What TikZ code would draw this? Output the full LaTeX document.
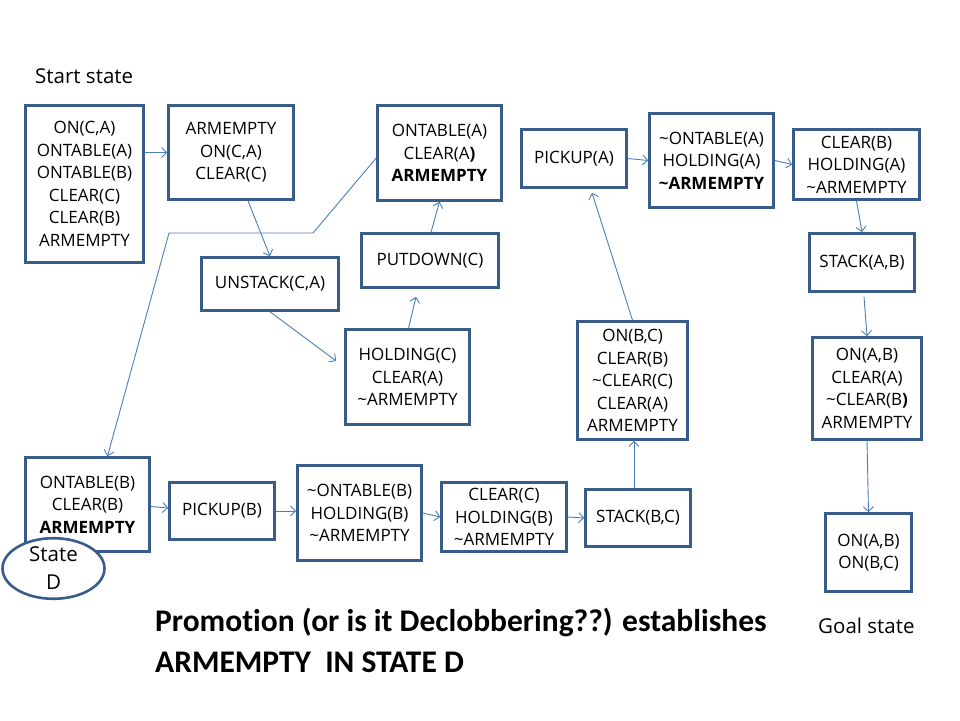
\documentclass[tikz,border=0pt]{standalone}
\usepackage{fontspec}
\setmainfont{Open Sans}
\newfontfamily\titlefont[Ligatures=NoCommon]{Carlito}
\usetikzlibrary{arrows.meta,shapes.geometric}
\definecolor{boxblue}{RGB}{56,93,138}
\definecolor{lineblue}{RGB}{74,126,187}
\newcommand{\tl}{\textasciitilde}
\tikzset{
block/.style = {draw=boxblue, line width=2.6pt, fill=white, align=center,
                inner sep=0pt, font=\fontsize{17}{22.5}\selectfont},
statec/.style = {ellipse, draw=boxblue, line width=2.6pt, fill=white,
                align=center, inner sep=0pt, font=\fontsize{20.5}{28}\selectfont},
input/.style = {coordinate},
conn/.style = {->, draw=lineblue, line width=0.9pt},
label/.style = {inner sep=0pt, anchor=base west, font=\fontsize{20.5}{24}\selectfont}
}

\begin{document}
\begin{tikzpicture}[x=1pt, y=-1pt, >={Straight Barb[length=5pt,width=10pt]}]
    \useasboundingbox (0,0) rectangle (960,720);

    \node [label, name=startlbl] (startlbl) at (35,83) {Start state};
    \node [block, name=start, minimum width=118pt, minimum height=157pt] (start) at (84.5,184)
    {ON(C,A)\\ONTABLE(A)\\ONTABLE(B)\\CLEAR(C)\\CLEAR(B)\\ARMEMPTY};
    \node [block, name=s1, minimum width=125pt, minimum height=94pt] (s1) at (231,152.5)
    {ARMEMPTY\\ON(C,A)\\CLEAR(C)};
    \node [block, name=unstack, minimum width=137pt, minimum height=53pt] (unstack) at (270,284) {UNSTACK(C,A)};
    \node [block, name=holdc, minimum width=124pt, minimum height=95pt] (holdc) at (407.5,377)
    {HOLDING(C)\\CLEAR(A)\\\tl ARMEMPTY};
    \node [block, name=putdown, minimum width=137pt, minimum height=54pt] (putdown) at (430,260.5) {PUTDOWN(C)};
    \node [block, name=s2, minimum width=124pt, minimum height=95pt] (s2) at (439.5,153)
    {ONTABLE(A)\\CLEAR(A\textbf{)}\\\textbf{ARMEMPTY}};

    \draw [conn] (start.east |- s1.west) -- (s1.west);
    \draw [conn] ([xshift=17pt]s1.south) -- (unstack.north);
    \draw [conn] (unstack.south) -- ([xshift=-8pt,yshift=16pt]holdc.west);
    \draw [conn] ([xshift=1pt]holdc.north) -- ([xshift=-14pt,yshift=-8pt]putdown.south);
    \draw [conn] ([xshift=1pt]putdown.north) -- (s2.south);

    \node [block, name=pickupa, minimum width=105pt, minimum height=58pt] (pickupa) at (574,158.5) {PICKUP(A)};
    \node [block, name=holda, minimum width=124pt, minimum height=94pt] (holda) at (711.5,160.5)
    {\tl ONTABLE(A)\\HOLDING(A)\\\textbf{\tl ARMEMPTY}};
    \node [block, name=clearb, minimum width=126pt, minimum height=70pt] (clearb) at (856.5,164.5)
    {CLEAR(B)\\HOLDING(A)\\\tl ARMEMPTY};
    \node [block, name=stackab, minimum width=105pt, minimum height=58pt] (stackab) at (862,262.5) {STACK(A,B)};
    \node [block, name=onab, minimum width=109pt, minimum height=102pt] (onab) at (867,388.5)
    {ON(A,B)\\CLEAR(A)\\\tl CLEAR(B\textbf{)}\\ARMEMPTY};
    \node [block, name=goal, minimum width=86pt, minimum height=78pt] (goal) at (868.5,552.5)
    {ON(A,B)\\ON(B,C)};
    \node [label, name=goallbl] (goallbl) at (818,633) {Goal state};

    \draw [conn] (pickupa.east) -- (holda.west);
    \draw [conn] (holda.east) -- (clearb.west);
    \draw [conn] (clearb.south) -- (stackab.north);
    \draw [conn] ([xshift=2pt,yshift=-4pt]stackab.south) -- (onab.north);
    \draw [conn] (onab.south) -- (goal.north);

    \node [block, name=onbc, minimum width=110pt, minimum height=118pt] (onbc) at (632.5,380.5)
    {ON(B,C)\\CLEAR(B)\\\tl CLEAR(C)\\CLEAR(A)\\ARMEMPTY};
    \node [block, name=stateD, minimum width=124pt, minimum height=94pt] (stateD) at (87.5,504.5)
    {ONTABLE(B)\\CLEAR(B)\\\textbf{ARMEMPTY}};
    \node [statec, name=circd, minimum width=102pt, minimum height=60pt] (circd) at (53.5,568.5)
    {State\\D};
    \node [block, name=pickupb, minimum width=105pt, minimum height=57pt] (pickupb) at (222,511) {PICKUP(B)};
    \node [block, name=notontb, minimum width=124pt, minimum height=95pt] (notontb) at (359.5,513)
    {\tl ONTABLE(B)\\HOLDING(B)\\\tl ARMEMPTY};
    \node [block, name=clearc, minimum width=125pt, minimum height=69pt] (clearc) at (504,517)
    {CLEAR(C)\\HOLDING(B)\\\tl ARMEMPTY};
    \node [block, name=stackbc, minimum width=105pt, minimum height=57pt] (stackbc) at (638,518) {STACK(B,C)};

    \draw [conn] ([yshift=-2pt]stateD.east) -- ([yshift=3pt]pickupb.west);
    \draw [conn] (pickupb.east) -- (pickupb.east -| notontb.west);
    \draw [conn] (notontb.east) -- (clearc.west);
    \draw [conn] (clearc.east) -- (stackbc.west);
    \draw [conn] ([xshift=-4pt]stackbc.north) -- ([xshift=1.5pt]onbc.south);
    \draw [conn] (onbc.north) -- ([xshift=18pt,yshift=-4pt]pickupa.south);

    % link back to state D
    \node [input, name=bendr] (bendr) at (313,233) {};
    \node [input, name=bendl] (bendl) at (169,233) {};
    \draw [conn] ([yshift=-5pt]s2.west) -- (bendr) -- (bendl) -- ([xshift=20pt]stateD.north);

    \node [inner sep=0pt, anchor=base west, align=left, font=\titlefont\bfseries\fontsize{31.5}{41}\selectfont,
           name=note] (note) at (155,672)
    {Promotion (or is it Declobbering??) establishes\\ARMEMPTY\ \ IN STATE D};
\end{tikzpicture}
\end{document}
